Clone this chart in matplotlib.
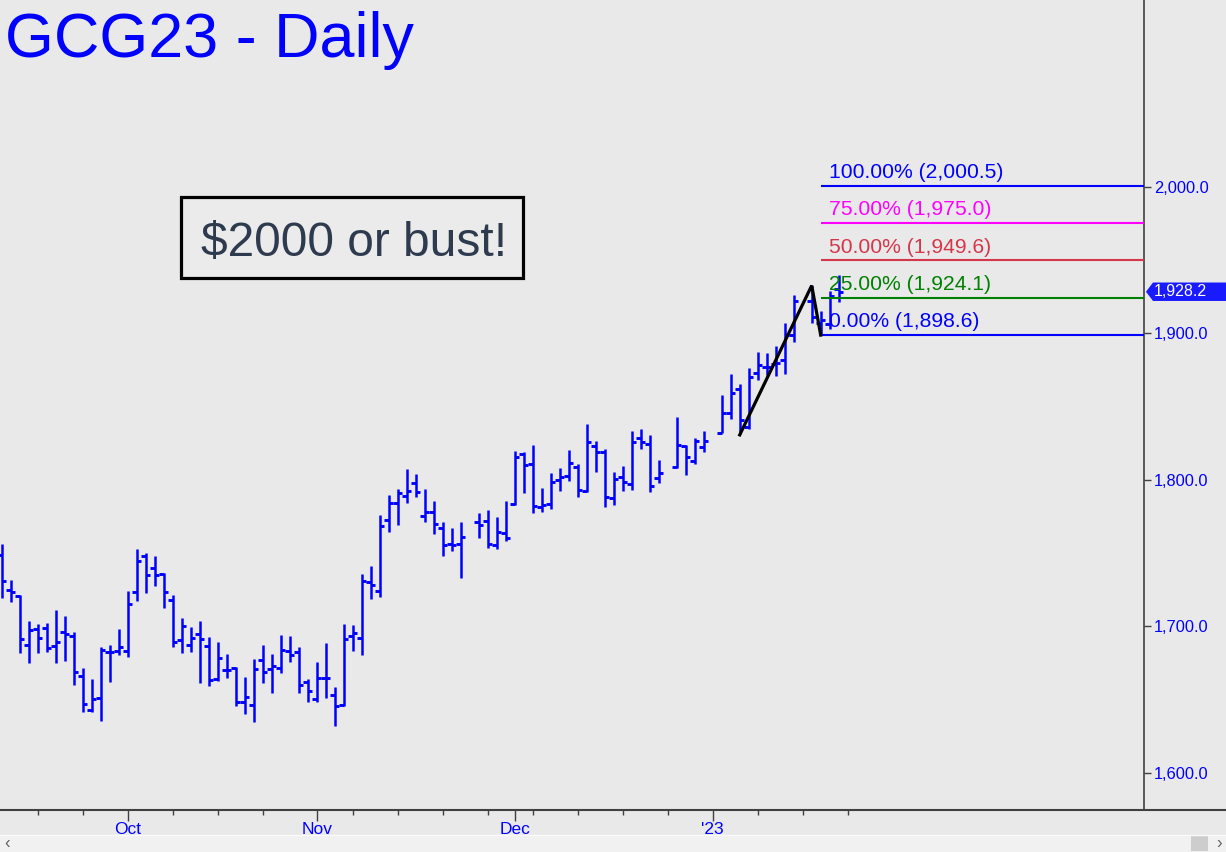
import numpy as np
import pandas as pd
import matplotlib
matplotlib.use('Agg')
import matplotlib.pyplot as plt
from matplotlib import font_manager
from matplotlib.patches import Rectangle, Polygon
from matplotlib.lines import Line2D
from matplotlib.transforms import blended_transform_factory

# ---------------- data ----------------
start_date = '2022-09-13'
end_date = '2023-01-20'
holidays = ['2022-11-24', '2022-12-26', '2023-01-02', '2023-01-16']

opens = [1748.5, 1724.6, 1720.5, 1687.1, 1697.9, 1698.6, 1686.4, 1695.9, 1693.2, 1666.0,
         1642.7, 1650.6, 1682.1, 1682.8, 1682.8, 1723.2, 1747.8, 1739.4, 1735.5, 1717.8,
         1690.2, 1686.8, 1694.6, 1686.4, 1663.9, 1670.0, 1671.2, 1648.5, 1646.0, 1676.8,
         1670.7, 1671.4, 1683.0, 1682.3, 1662.0, 1650.1, 1664.8, 1652.9, 1645.9, 1693.2,
         1691.6, 1729.9, 1723.9, 1772.4, 1783.8, 1788.8, 1797.4, 1775.1, 1777.6, 1766.7,
         1755.8, 1755.8,
         1770.8, 1771.7, 1755.3, 1763.3, 1783.1, 1817.4, 1810.6, 1781.0, 1783.1, 1799.7,
         1802.4, 1808.3, 1792.4, 1822.9, 1818.6, 1787.2, 1801.5, 1796.7, 1828.1, 1824.2, 1800.8,
         1808.3, 1822.9, 1812.6, 1822.0,
         1831.5, 1845.6, 1861.6, 1835.8, 1872.9, 1876.6, 1878.6, 1881.6, 1898.6,
         1922.0, 1907.0, 1906.0, 1930.0]
highs = [1756.0, 1731.4, 1721.2, 1703.5, 1701.2, 1701.9, 1710.9, 1706.9, 1695.9, 1671.4,
         1663.9, 1685.5, 1687.1, 1698.0, 1723.9, 1752.6, 1750.1, 1747.8, 1736.0, 1721.2,
         1705.3, 1699.6, 1703.5, 1692.3, 1689.4, 1680.9, 1672.3, 1665.5, 1677.5, 1687.1,
         1680.9, 1693.9, 1693.2, 1686.0, 1664.1, 1675.5, 1688.6, 1658.2, 1701.4, 1700.7,
         1735.5, 1741.0, 1775.8, 1789.4, 1793.3, 1807.2, 1803.8, 1793.3, 1785.6, 1770.8,
         1766.9, 1770.8,
         1777.0, 1779.2, 1774.2, 1785.3, 1819.5, 1819.0, 1823.6, 1794.0, 1804.3, 1807.7,
         1820.2, 1810.6, 1837.9, 1826.3, 1820.6, 1805.3, 1809.2, 1833.1, 1834.3, 1830.4, 1813.3,
         1842.5, 1823.6, 1828.1, 1833.1,
         1857.7, 1872.0, 1865.2, 1875.9, 1887.2, 1886.1, 1891.1, 1907.0, 1925.9,
         1932.4, 1915.0, 1929.0, 1939.6]
lows = [1719.3, 1716.6, 1681.8, 1675.0, 1681.4, 1682.1, 1675.0, 1676.4, 1659.6, 1641.6,
        1641.6, 1635.4, 1662.0, 1680.3, 1679.1, 1717.3, 1722.4, 1727.5, 1712.1, 1685.9,
        1681.4, 1682.1, 1661.3, 1659.3, 1662.8, 1664.3, 1645.6, 1640.0, 1634.7, 1661.3,
        1654.5, 1667.7, 1675.7, 1654.5, 1648.5, 1648.5, 1651.1, 1631.8, 1645.4, 1683.2,
        1680.5, 1718.7, 1719.6, 1764.4, 1769.0, 1783.8, 1787.9, 1770.8, 1762.9, 1748.0,
        1751.4, 1733.0,
        1759.9, 1753.1, 1752.4, 1758.0, 1782.6, 1791.0, 1777.4, 1778.0, 1779.7, 1792.4,
        1799.2, 1788.3, 1791.3, 1805.3, 1781.5, 1782.6, 1792.4, 1792.9, 1820.6, 1791.7, 1797.8,
        1807.7, 1803.1, 1810.6, 1819.0,
        1831.5, 1841.1, 1831.0, 1834.3, 1867.9, 1871.3, 1870.7, 1872.0, 1894.1,
        1907.0, 1898.6, 1903.0, 1921.4]
closes = [1730.8, 1723.0, 1691.2, 1697.3, 1691.8, 1685.0, 1689.0, 1694.3, 1669.0, 1646.8,
          1650.0, 1683.7, 1682.1, 1685.5, 1714.9, 1744.4, 1735.0, 1734.9, 1723.0, 1688.9,
          1700.0, 1691.6, 1691.0, 1663.2, 1678.0, 1670.0, 1648.5, 1651.8, 1670.7, 1668.4,
          1672.7, 1683.7, 1680.3, 1659.6, 1655.9, 1664.4, 1664.4, 1645.4, 1691.0, 1695.1,
          1730.8, 1727.8, 1768.1, 1783.8, 1790.7, 1792.2, 1791.3, 1777.8, 1769.5, 1755.3,
          1755.3, 1760.6,
          1769.0, 1755.8, 1764.0, 1759.9, 1815.2, 1809.9, 1781.9, 1782.6, 1798.5, 1801.7,
          1811.1, 1792.9, 1825.4, 1818.6, 1787.9, 1800.2, 1798.1, 1825.4, 1825.4, 1795.6, 1804.3,
          1823.6, 1815.6, 1826.3, 1826.3,
          1845.6, 1858.8, 1840.6, 1869.8, 1878.2, 1876.6, 1879.3, 1898.6, 1922.0,
          1911.0, 1909.0, 1925.0, 1928.2]

zz_dates = ['2023-01-05', '2023-01-17', '2023-01-18']
zz_prices = [1830.5, 1932.4, 1898.6]

fib_pcts = ['0.00%', '25.00%', '50.00%', '75.00%', '100.00%']
fib_levels = [1898.6, 1924.1, 1949.6, 1975.0, 2000.5]
fib_colors = ['#0000ff', '#008000', '#d4364a', '#ff00ff', '#0000ff']

last_price = 1928.2
y_ticks = [1600, 1700, 1800, 1900, 2000]
month_ticks = ['2022-10-03', '2022-11-01', '2022-12-01', '2023-01-02']
month_labels = ['Oct', 'Nov', 'Dec', "'23"]

title = 'GCG23 - Daily'
note = '$2000 or bust!'

# ---------------- helpers ----------------
def has_font(name):
    try:
        font_manager.findfont(font_manager.FontProperties(family=name), fallback_to_default=False)
        return True
    except Exception:
        return False

MAIN = 'Liberation Sans' if has_font('Liberation Sans') else 'DejaVu Sans'
NARROW = 'Liberation Sans Narrow' if has_font('Liberation Sans Narrow') else MAIN
plt.rcParams['font.family'] = [MAIN, 'DejaVu Sans']

BG = '#e9e9e9'
BLUE = '#0000ff'
W, H = 1226, 852

# slot positions (weekday calendar, holidays are empty slots)
all_days = pd.bdate_range(start_date, '2023-01-23')
slot = {d: i for i, d in enumerate(all_days)}
trade_days = [d for d in pd.bdate_range(start_date, end_date) if d.strftime('%Y-%m-%d') not in holidays]
xs = np.array([slot[d] for d in trade_days], dtype=float)
O, Hh, L, C = map(np.array, (opens, highs, lows, closes))

fig = plt.figure(figsize=(W / 100, H / 100), dpi=100, facecolor=BG)
ax = fig.add_axes([0, 42 / H, 1144 / W, 810 / H])
ax.set_facecolor(BG)

xmin, xmax = -0.19, 126.92
ax.set_xlim(xmin, xmax)
ax.set_ylim(1574.5, 2127.3)

# OHLC bars
tick = 0.48
ax.vlines(xs, L, Hh, color=BLUE, lw=1.8)
ax.hlines(O, xs - tick, xs, color=BLUE, lw=2.1)
ax.hlines(C, xs, xs + tick, color=BLUE, lw=2.1)

# zigzag
zx = [slot[pd.Timestamp(d)] for d in zz_dates]
ax.plot(zx, zz_prices, color='black', lw=2.3, solid_joinstyle='miter', zorder=5)

# fib lines and labels
fx = zx[-1]
for pct, lev, col in zip(fib_pcts, fib_levels, fib_colors):
    ax.hlines(lev, fx, xmax, color=col, lw=1.5, zorder=4)
    ax.text(fx + 0.9, lev + 5.3, f'{pct} ({lev:,.1f})', color=col, fontsize=15.2,
            va='baseline', ha='left', zorder=6)

# axes styling
for s in ['left', 'top', 'bottom']:
    ax.spines[s].set_visible(False)
ax.spines['right'].set_color('#404040')
ax.spines['right'].set_linewidth(1.2)

ax.yaxis.tick_right()
ax.set_yticks(y_ticks)
ax.set_yticklabels([f'{v:,.1f}' for v in y_ticks])
ax.tick_params(axis='y', colors='#404040', labelcolor=BLUE, length=5, width=1, pad=2, labelsize=11.8)

major_x = [slot[pd.Timestamp(d)] for d in month_ticks]
minor_x = [slot[d] for d in all_days if d.weekday() == 0 and all(abs(slot[d] - m) > 1 for m in major_x)]
ax.set_xticks(major_x)
ax.set_xticklabels(month_labels, fontfamily=NARROW)
ax.set_xticks(minor_x, minor=True)
ax.tick_params(axis='x', which='major', colors='#404040', labelcolor=BLUE, length=8, width=1,
               pad=1, labelsize=12.5)
ax.tick_params(axis='x', which='minor', colors='#404040', length=3.5, width=1)

# bottom axis line across whole width
fig.add_artist(Line2D([0, 1], [42 / H, 42 / H], transform=fig.transFigure, color='#404040', lw=1.5))

# last price tag
tr = blended_transform_factory(fig.transFigure, ax.transData)
hh = 6.3
tag = Polygon([(1146 / W, last_price), (1153 / W, last_price + hh), (1.0, last_price + hh),
               (1.0, last_price - hh), (1153 / W, last_price - hh)], closed=True,
              transform=tr, facecolor='#1a1aff', edgecolor='none', clip_on=False, zorder=7)
ax.add_patch(tag)
ax.text(1154 / W, last_price, f'{last_price:,.1f}', transform=tr, color='white', fontsize=11.5,
        va='center', ha='left', clip_on=False, zorder=8)

# title
fig.text(5 / W, 1 - 57 / H, title, color=BLUE, fontsize=45.3, va='baseline', ha='left')

# note box
fig.add_artist(Rectangle((181 / W, 1 - 278 / H), 342 / W, 81 / H, transform=fig.transFigure,
                         facecolor='#ebebeb', edgecolor='black', lw=2.3))
fig.text(354 / W, 1 - 256 / H, note, color='#2e3a4e', fontsize=34.5, va='baseline', ha='center')

# scrollbar
fig.add_artist(Rectangle((0, 0), 1, 17 / H, transform=fig.transFigure, facecolor='#f1f1f1',
                         edgecolor='none'))
fig.add_artist(Line2D([0, 1], [17.5 / H, 17.5 / H], transform=fig.transFigure, color='#fafafa', lw=1))
fig.add_artist(Rectangle((1191 / W, 1 / H), 17 / W, 15 / H, transform=fig.transFigure,
                         facecolor='#cdcdcd', edgecolor='none'))
fig.text(4 / W, 8.5 / H, '‹', color='#606060', fontsize=12, va='center', ha='left')
fig.text(1222 / W, 8.5 / H, '›', color='#606060', fontsize=12, va='center', ha='right')

fig.savefig('out.png', dpi=100, facecolor=BG)
